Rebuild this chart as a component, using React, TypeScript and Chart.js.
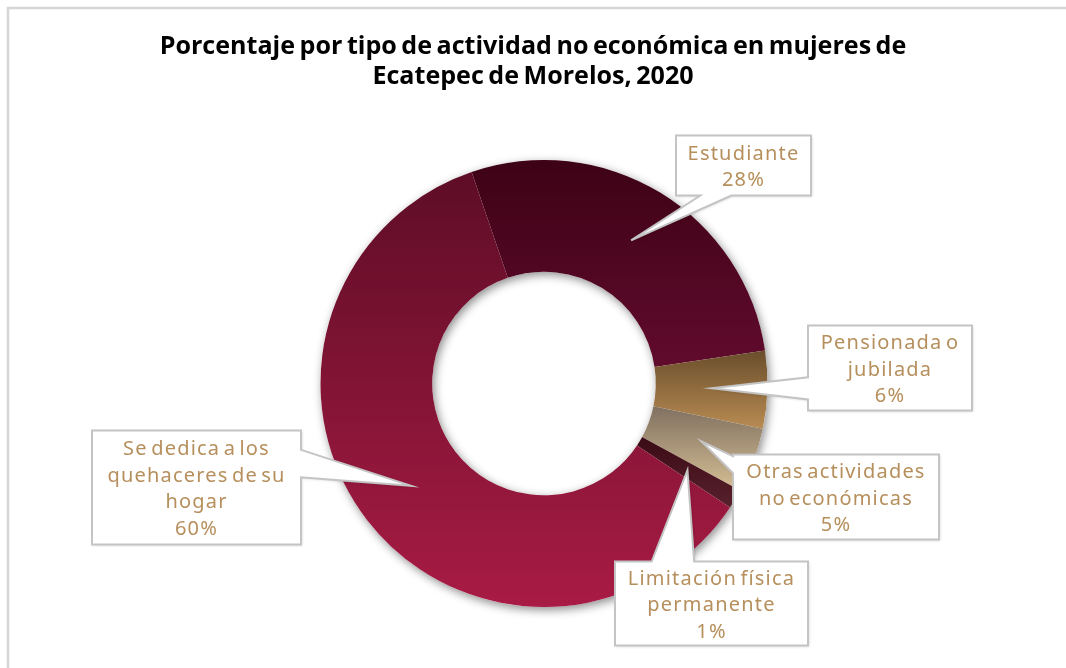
import React, { useEffect, useRef } from "react";
import { Chart, registerables } from "chart.js";

Chart.register(...registerables);

const titleLines = [
  "Porcentaje por tipo de actividad no económica en mujeres de",
  "Ecatepec de Morelos, 2020",
];
const categories = [
  "Estudiante",
  "Pensionada o jubilada",
  "Otras actividades no económicas",
  "Limitación física permanente",
  "Se dedica a los quehaceres de su hogar",
];
const labelLines = [
  ["Estudiante"],
  ["Pensionada o", "jubilada"],
  ["Otras actividades", "no económicas"],
  ["Limitación física", "permanente"],
  ["Se dedica a los", "quehaceres de su", "hogar"],
];
const values = [27.9, 5.6, 4.7, 1.4, 60.4];
const colorTop = ["#3d0215", "#6a4e2c", "#807060", "#3a0b16", "#5e0d27"];
const colorBottom = ["#610b2d", "#b88b52", "#d6bf95", "#58212b", "#a81b44"];

// callout boxes: offsets from doughnut centre, pointer base side and fractions
const callouts = [
  { x0: 132, y0: -248, x1: 267, y1: -188, side: "bottom", f0: 0.18, f1: 0.41 },
  { x0: 264, y0: -58, x1: 428, y1: 27, side: "left", f0: 0.61, f1: 0.87 },
  { x0: 189, y0: 71, x1: 395, y1: 156, side: "left", f0: 0.02, f1: 0.22 },
  { x0: 71, y0: 178, x1: 264, y1: 262, side: "top", f0: 0.19, f1: 0.41 },
  { x0: -452, y0: 47, x1: -243, y1: 161, side: "right", f0: 0.17, f1: 0.41 },
];

const ROTATION = -18.9;
const CUTOUT = 0.5;
const TEXT_COLOR = "#b68f5c";
const TITLE_WIDTH = 742;
const LABEL_FONT = "400 20px 'Noto Sans'";

function sliceGradient(ctx: any) {
  const chart = ctx.chart;
  const i = ctx.dataIndex;
  const area = chart.chartArea;
  if (!area || i === undefined) return colorBottom[i ?? 0];
  const cx = (area.left + area.right) / 2;
  const cy = (area.top + area.bottom) / 2;
  const R = Math.min(area.width, area.height) / 2;
  const r = R * CUTOUT;
  const total = values.reduce((a, b) => a + b, 0);
  let before = 0;
  for (let k = 0; k < i; k++) before += values[k];
  const a0 = ((ROTATION - 90) * Math.PI) / 180 + (before / total) * Math.PI * 2;
  const a1 = a0 + (values[i] / total) * Math.PI * 2;
  let yMin = Infinity;
  let yMax = -Infinity;
  const steps = 60;
  for (let s = 0; s <= steps; s++) {
    const a = a0 + ((a1 - a0) * s) / steps;
    for (const rr of [r, R]) {
      const y = cy + rr * Math.sin(a);
      yMin = Math.min(yMin, y);
      yMax = Math.max(yMax, y);
    }
  }
  const g = chart.ctx.createLinearGradient(0, yMin, 0, yMax);
  g.addColorStop(0, colorTop[i]);
  g.addColorStop(1, colorBottom[i]);
  return g;
}

const decorPlugin = {
  id: "decor",
  beforeDraw(chart: any) {
    const ctx = chart.ctx;
    ctx.save();
    ctx.fillStyle = "#ffffff";
    ctx.fillRect(0, 0, chart.width, chart.height);
    ctx.strokeStyle = "#d6d6d6";
    ctx.lineWidth = 2.5;
    ctx.beginPath();
    ctx.moveTo(chart.width, 8);
    ctx.lineTo(8, 8);
    ctx.lineTo(8, chart.height);
    ctx.stroke();
    ctx.fillStyle = "#000000";
    (ctx as any).letterSpacing = "0px";
    (ctx as any).wordSpacing = "-2px";
    ctx.font = "700 20px 'Open Sans'";
    const w0 = ctx.measureText(titleLines[0]).width;
    const size = (20 * TITLE_WIDTH) / w0;
    ctx.font = `700 ${size.toFixed(2)}px 'Open Sans'`;
    ctx.textAlign = "center";
    ctx.textBaseline = "middle";
    ctx.fillText(titleLines[0], chart.width / 2, 47);
    ctx.fillText(titleLines[1], chart.width / 2, 77);
    ctx.restore();
  },
  beforeDatasetsDraw(chart: any) {
    const meta = chart.getDatasetMeta(0);
    const arc = meta.data[0];
    if (!arc) return;
    const { x, y, innerRadius, outerRadius } = arc.getProps(["x", "y", "innerRadius", "outerRadius"], true);
    const ctx = chart.ctx;
    ctx.save();
    ctx.shadowColor = "rgba(0,0,0,0.45)";
    ctx.shadowBlur = 10;
    ctx.shadowOffsetX = 2;
    ctx.shadowOffsetY = 3;
    ctx.fillStyle = "#ffffff";
    ctx.beginPath();
    ctx.arc(x, y, outerRadius, 0, Math.PI * 2, false);
    ctx.arc(x, y, innerRadius, Math.PI * 2, 0, true);
    ctx.closePath();
    ctx.fill();
    ctx.restore();
  },
  afterDatasetsDraw(chart: any) {
    const meta = chart.getDatasetMeta(0);
    const ctx = chart.ctx;
    const total = values.reduce((a, b) => a + b, 0);
    meta.data.forEach((arc: any, i: number) => {
      const c = callouts[i];
      const cx = arc.x;
      const cy = arc.y;
      const tip = arc.tooltipPosition(true);
      const L = cx + c.x0, T = cy + c.y0, Rr = cx + c.x1, B = cy + c.y1;
      const w = Rr - L, h = B - T;
      ctx.save();
      ctx.beginPath();
      ctx.moveTo(L, T);
      if (c.side === "top") {
        ctx.lineTo(L + w * c.f0, T);
        ctx.lineTo(tip.x, tip.y);
        ctx.lineTo(L + w * c.f1, T);
      }
      ctx.lineTo(Rr, T);
      if (c.side === "right") {
        ctx.lineTo(Rr, T + h * c.f0);
        ctx.lineTo(tip.x, tip.y);
        ctx.lineTo(Rr, T + h * c.f1);
      }
      ctx.lineTo(Rr, B);
      if (c.side === "bottom") {
        ctx.lineTo(L + w * c.f1, B);
        ctx.lineTo(tip.x, tip.y);
        ctx.lineTo(L + w * c.f0, B);
      }
      ctx.lineTo(L, B);
      if (c.side === "left") {
        ctx.lineTo(L, T + h * c.f1);
        ctx.lineTo(tip.x, tip.y);
        ctx.lineTo(L, T + h * c.f0);
      }
      ctx.closePath();
      ctx.shadowColor = "rgba(0,0,0,0.18)";
      ctx.shadowBlur = 3;
      ctx.shadowOffsetX = 1;
      ctx.shadowOffsetY = 1;
      ctx.fillStyle = "#ffffff";
      ctx.fill();
      ctx.shadowColor = "transparent";
      ctx.strokeStyle = "#c4c4c4";
      ctx.lineWidth = 2;
      ctx.lineJoin = "miter";
      ctx.stroke();

      const lines = [...labelLines[i], Math.round((values[i] / total) * 100) + "%"];
      ctx.font = LABEL_FONT;
      (ctx as any).letterSpacing = "1.2px";
      (ctx as any).wordSpacing = "-3px";
      ctx.fillStyle = TEXT_COLOR;
      ctx.textAlign = "center";
      ctx.textBaseline = "middle";
      const lh = 26.5;
      const midY = (T + B) / 2 + 2;
      const startY = midY - ((lines.length - 1) * lh) / 2;
      lines.forEach((ln, k) => ctx.fillText(ln, (L + Rr) / 2, startY + k * lh));
      ctx.restore();
    });
  },
};

export default function App() {
  const ref = useRef<HTMLCanvasElement | null>(null);
  useEffect(() => {
    if (!ref.current) return;
    const chart = new Chart(ref.current, {
      type: "doughnut",
      data: {
        labels: categories,
        datasets: [
          {
            data: values,
            backgroundColor: sliceGradient as any,
            borderWidth: 0,
            hoverOffset: 0,
          },
        ],
      },
      options: {
        responsive: true,
        maintainAspectRatio: false,
        animation: false,
        rotation: ROTATION,
        cutout: "50%",
        layout: { padding: { top: 160, bottom: 61, left: 22, right: 0 } },
        plugins: {
          legend: { display: false },
          tooltip: { enabled: false },
          title: { display: false },
        },
        events: [],
      },
      plugins: [decorPlugin],
    });
    return () => chart.destroy();
  }, []);
  return (
    <div style={{ position: "fixed", left: 0, top: 0, width: 1066, height: 668, background: "#fff" }}>
      <canvas ref={ref} />
    </div>
  );
}
